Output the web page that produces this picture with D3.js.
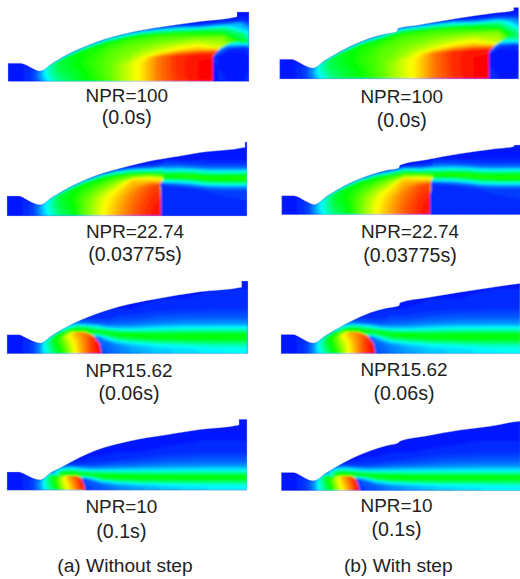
<!DOCTYPE html>
<html>
<head>
<meta charset="utf-8">
<script src="https://cdn.jsdelivr.net/npm/d3@7"></script>
<style>
html, body { margin:0; padding:0; background:#fff; }
text { font-family:"Liberation Sans", Arial, sans-serif; fill:#222; }
</style>
</head>
<body>
<div id="chart"></div>
<script>
// wall contours, [axial distance, radius]
var wall100A = [[0,18.3],[12,18.3],[17,17],[24,13.5],[31.5,10.5],[45,18.8],[55,24.8],[72,33],[89,39.8],[105,44.8],[122,49],[139,52.3],[153,54.5],[170,57],[192,60],[229,64.7],[229,69.5],[241,69.5]];
var wall22A = [[0,20],[12,20],[17,18],[24,14],[33,11.3],[45,18.8],[55,24.8],[72,33.5],[89,40.5],[105,45.5],[122,50],[143,55],[170,59.5],[193,63.5],[238,68.7],[238,74],[240,74]];
var wall15A = [[0,19],[12,19],[17,17],[24,13.5],[33,10.7],[45,18.3],[55,24.5],[72,33],[89,39.8],[105,45],[122,49.5],[139,53],[153,55.5],[170,58.5],[193,62],[234.7,66.5],[234.7,72.7],[241,72.7]];
var wall10A = [[0,18.3],[12,18.3],[17,16.5],[24,13],[33,10.5],[45,18.5],[56,24],[73,33],[89.7,40.3],[106,45.3],[123,49.3],[139.7,52.6],[153,54.5],[170,57.3],[193,60.8],[232,65.3],[232,71],[240,71]];
var wall100B = [[0,19.7],[12,19.7],[17,18],[24,14],[33,11],[45,18.5],[55,24.5],[72,33.5],[89,40.5],[105,45],[117,47.5],[118.5,50.7],[139,54],[153,56.5],[180,61],[213,65.7],[234,68.5],[234,71.5],[239,71.5]];
var wall22B = [[0,19],[12,19],[17,17.5],[24,13.5],[32.7,10.3],[45,18.5],[55,24.8],[72,33.5],[89,40],[105,44.5],[117,46.8],[118.5,49.7],[145,55],[178,61],[212,65.7],[231.7,68],[233,69.7],[239,69.7]];
var wall15B = [[0,19.3],[12,19.3],[17,17.5],[24,13.5],[32.3,10.7],[45,18.5],[55,24.5],[72,33.5],[89,41],[105,45.5],[118,48],[119,51],[145.7,56],[179,61.5],[212,66.5],[239,70.3]];
var wall10B = [[0,18.3],[12,18.3],[17,16.5],[24,12.5],[32,10],[45,18],[55,24],[72,33],[89,40],[105,45],[117,48],[118.5,49.5],[145,54.7],[179,60.7],[212,65],[233.7,69],[239,69.5]];

// shock fronts, from the axis up
var shock100A = [[204.5,0],[204.5,24],[205,26],[212,33.7],[222,38.7],[229,39.7],[245,38]];
var shock100B = [[208.7,0],[209,26],[210,29],[215,34],[229,43],[239,45],[245,46]];
var shock22A = [[153.5,0],[153,32],[156,37]];
var shock22B = [[148,0],[148.5,33],[151,37]];
var shock15 = [[94,0],[92,10],[86,18],[78,21],[65,22],[55,22],[50,24]];
var shock10 = [[78,0],[77,4],[74,12],[70,14],[60,14],[47,15],[43,18]];

// plume values (0-100), rows are fractions of the local radius
var plumeX100A = [0,16,26,32,40,50,62,80,100,120,135,150,170,190,215,241];
var plumeX100B = [0,16,26,33,41,51,63,81,101,122,138,154,174,194,219,241];
var plumeEta100 = [0,.2,.35,.45,.55,.7,.85,.92,.97,1.01];
var plume100 = [
	[2,3,6,12,24,36,43,50,58,70,78,88,95,99,100,100],
	[2,3,6,13,26,38,44,51,59,70,78,88,96,99,100,100],
	[2,3,6,14,28,40,45,52,59,70,78,88,96,99,100,100],
	[2,3,6,15,30,42,47,53,59,65,75,88,96,98,98,90],
	[2,3,6,15,30,43,47,53,58,63,68,72,78,80,70,45],
	[2,3,6,15,30,42,47,52,57,60,61,63,64,65,62,25],
	[2,3,6,14,30,44,48,51,53,55,55,55,52,45,35,5],
	[2,3,5,14,30,44,46,47,47,46,44,38,28,10,8,2],
	[1,2,3,10,20,28,28,28,26,22,18,12,6,3,3,1],
	[0,1,1,4,8,10,10,10,10,8,6,3,2,1,1,0]
];
var plumeX22A = [0,16,26,33,43,52,62,76,96,110,126,143,160];
var plumeX22B = [0,16,26,33,43,52,62,76,94,107,122,138,155];
var plumeEta22 = [0,.2,.4,.55,.7,.8,.87,.93,.97,1.01];
var plume22 = [
	[2,3,6,13,27,38,44,58,75,83,91,97,100],
	[2,3,6,14,28,40,46,58,74,82,90,96,100],
	[2,3,6,15,30,43,48,58,72,80,88,94,98],
	[2,3,6,15,31,44,49,57,67,76,84,92,95],
	[2,3,6,15,30,44,49,54,60,66,80,72,55],
	[2,3,6,14,29,44,48,52,55,58,55,42,30],
	[2,3,6,14,30,44,47,50,50,50,40,12,8],
	[2,3,5,14,30,42,44,45,42,30,10,4,4],
	[1,2,3,10,20,26,26,24,14,8,3,2,2],
	[0,1,1,4,8,10,10,8,4,2,1,1,1]
];
var plumeX15 = [0,16,26,33,40,47,55,60,67,75,83,92,100];
var plumeEta15 = [0,.2,.35,.5,.65,.8,.88,.94,.98,1.01];
var plume15 = [
	[2,3,6,14,27,40,52,60,74,84,92,99,100],
	[2,3,6,15,28,42,54,62,74,84,93,100,100],
	[2,3,6,15,30,44,56,65,76,85,93,98,98],
	[2,3,6,15,31,46,58,68,78,86,92,95,95],
	[2,3,6,15,32,47,60,72,82,88,90,90,90],
	[2,3,6,15,30,46,52,58,60,60,60,60,60],
	[2,3,6,14,28,44,48,48,48,48,48,48,48],
	[2,3,5,12,24,40,42,42,42,42,42,42,42],
	[1,2,3,6,10,16,16,16,16,16,16,16,16],
	[0,1,1,2,3,5,4,4,4,4,4,4,4]
];
var plumeX10 = [0,16,26,33,38,43,50,56,61,68,75,80];
var plumeEta10 = [0,.2,.35,.5,.65,.8,.88,.94,.98,1.01];
var plume10 = [
	[2,3,6,14,25,35,50,66,75,85,96,100],
	[2,3,6,14,26,37,52,68,77,88,98,100],
	[2,3,6,15,27,39,55,70,80,90,98,98],
	[2,3,6,15,28,41,57,72,84,92,94,94],
	[2,3,6,15,28,42,54,62,74,80,80,80],
	[2,3,6,15,27,42,46,48,50,50,50,50],
	[2,3,6,14,25,36,38,38,38,38,38,38],
	[2,3,5,12,20,26,28,28,28,28,28,28],
	[1,2,3,6,10,12,12,12,12,12,12,12],
	[0,1,1,2,3,4,4,4,4,4,4,4]
];

// values outside the plume, rows are plain radii
var outerX100 = [0,200,210,220,235,241];
var outerR100 = [0,15,25,30,34,38,42,75];
var outer100 = [
	[2,2,3,3,3,4],
	[2,2,3,2,2,3],
	[2,3,3,2,2,3],
	[2,4,12,3,3,4],
	[2,5,25,8,4,8],
	[2,5,30,30,25,30],
	[2,5,40,40,40,40],
	[2,5,40,40,40,40]
];
var outerX22A = [150,158,172,185,200,215,241];
var outerX22B = [145,153,172,185,200,215,241];
var outerR22 = [0,15,25,29,32,35,38,41,44,47,51,56,75];
var outer22 = [
	[3,3,3,3,3,4,5],
	[3,3,3,3,3,4,5],
	[3,3,4,4,5,6,6],
	[3,4,5,7,12,14,14],
	[3,8,12,18,28,30,30],
	[20,28,30,36,46,50,50],
	[45,48,50,52,54,52,54],
	[48,52,52,52,46,46,48],
	[40,35,38,36,30,28,30],
	[25,18,20,18,14,14,14],
	[12,8,8,7,6,6,6],
	[4,3,3,3,3,3,3],
	[2,2,2,2,2,2,2]
];
var outerX15 = [50,60,70,80,90,100,110,125,150,180,210,241];
var outerR15 = [0,4,8,11,14,17,20,23,26,30,36,45,75];
var outer15 = [
	[6,6,6,6,8,9,12,15,20,22,24,26],
	[6,6,6,6,8,9,12,16,20,22,25,26],
	[6,6,6,6,8,10,13,18,24,27,30,31],
	[6,6,6,6,8,11,18,26,34,38,40,40],
	[6,6,6,6,8,18,34,40,46,47,47,47],
	[6,6,6,8,11,32,46,50,50,50,50,50],
	[6,45,45,45,42,50,50,50,47,48,48,47],
	[6,50,50,50,48,44,36,32,34,36,36,36],
	[3,28,48,42,32,20,18,18,22,24,25,25],
	[2,6,14,12,10,9,10,11,13,15,15,15],
	[2,3,3,4,4,4,6,6,8,9,9,9],
	[1,1,2,2,2,3,3,3,4,4,5,5],
	[1,1,1,1,1,1,1,1,1,1,2,2]
];
var outerX10 = [44,55,65,75,85,95,110,130,160,200,241];
var outerR10 = [0,3,6,9,12,15,18,21,25,30,38,50,75];
var outer10 = [
	[6,6,6,6,7,9,13,16,20,23,25],
	[6,6,6,6,7,9,13,16,20,23,25],
	[6,6,6,6,8,11,17,22,27,29,30],
	[6,6,6,6,9,22,34,40,42,42,42],
	[6,6,6,8,24,46,50,50,50,50,50],
	[6,48,48,48,50,50,50,49,48,48,47],
	[8,50,52,44,40,38,36,34,34,34,34],
	[5,25,30,22,18,18,19,20,21,22,22],
	[3,6,6,6,7,8,10,11,13,14,14],
	[2,3,3,3,4,4,5,6,8,9,9],
	[1,1,2,2,2,2,3,3,4,5,5],
	[1,1,1,1,1,1,2,2,2,3,3],
	[1,1,1,1,1,1,1,1,1,2,2]
];

var nprLabels = ["NPR=100","NPR=22.74","NPR15.62","NPR=10"];
var timeLabels = ["(0.0s)","(0.03775s)","(0.06s)","(0.1s)"];
var columnLabels = ["(a) Without step","(b) With step"];

var panels = [
	{left:8, axis:81.5, wall:wall100A, shock:shock100A, px:plumeX100A, pe:plumeEta100, pv:plume100, ox:outerX100, or:outerR100, ov:outer100, npr:0, cx:126.8, y1:101.7, y2:124},
	{left:7, axis:216, wall:wall22A, shock:shock22A, px:plumeX22A, pe:plumeEta22, pv:plume22, ox:outerX22A, or:outerR22, ov:outer22, npr:1, cx:135, y1:238.3, y2:260.7},
	{left:7, axis:353.7, wall:wall15A, shock:shock15, px:plumeX15, pe:plumeEta15, pv:plume15, ox:outerX15, or:outerR15, ov:outer15, npr:2, cx:129, y1:376.7, y2:400},
	{left:7, axis:490.3, wall:wall10A, shock:shock10, px:plumeX10, pe:plumeEta10, pv:plume10, ox:outerX10, or:outerR10, ov:outer10, npr:3, cx:121.4, y1:513.3, y2:537.7},
	{left:279.7, axis:79, wall:wall100B, shock:shock100B, px:plumeX100B, pe:plumeEta100, pv:plume100, ox:outerX100, or:outerR100, ov:outer100, npr:0, cx:401.7, y1:103.3, y2:126.7},
	{left:281.7, axis:214.7, wall:wall22B, shock:shock22B, px:plumeX22B, pe:plumeEta22, pv:plume22, ox:outerX22B, or:outerR22, ov:outer22, npr:1, cx:410, y1:238.3, y2:261.7},
	{left:281, axis:353.7, wall:wall15B, shock:shock15, px:plumeX15, pe:plumeEta15, pv:plume15, ox:outerX15, or:outerR15, ov:outer15, npr:2, cx:404, y1:376, y2:400},
	{left:281.3, axis:490.7, wall:wall10B, shock:shock10, px:plumeX10, pe:plumeEta10, pv:plume10, ox:outerX10, or:outerR10, ov:outer10, npr:3, cx:396.5, y1:512.3, y2:536}
];

var width = 520, height = 579;
var svg = d3.select("#chart").append("svg")
	.attr("width", width)
	.attr("height", height)
	.style("display", "block");

var defs = svg.append("defs");
defs.append("filter").attr("id", "soft")
	.attr("x", "-5%").attr("y", "-5%").attr("width", "110%").attr("height", "110%")
	.append("feGaussianBlur").attr("stdDeviation", 0.8);

var color = d3.scaleLinear()
	.domain([0,25,50,75,100])
	.range(["#0000ff","#00ffff","#00ff00","#ffff00","#ff0000"]);
var levels = d3.range(1, 100, 2);

//contour bands of one grid, painted from low to high
function drawBands(target, rows, toPoint) {
	var n = rows[0].length, m = rows.length;
	var bands = d3.contours().size([n, m]).thresholds(levels)(d3.merge(rows));
	var path = d3.geoPath(d3.geoTransform({
		point: function(gx, gy) {
			var p = toPoint(gx - 0.5, gy - 0.5);
			this.stream.point(p[0], p[1]);
		}
	}));
	target.selectAll("path").data(bands).enter().append("path")
		.attr("d", path)
		.attr("fill", function(d) { return color(d.value + 1); })
		.attr("stroke", "none");
}

panels.forEach(function(p, k) {
	var x = d3.scaleLinear().domain([0, 241]).range([p.left, p.left + 241]);
	var y = d3.scaleLinear().domain([0, 75]).range([p.axis, p.axis - 75]);
	var radius = d3.scaleLinear()
		.domain(p.wall.map(function(d) { return d[0]; }))
		.range(p.wall.map(function(d) { return d[1]; }))
		.clamp(true);

	var wallArea = d3.area()
		.curve(d3.curveMonotoneX)
		.x(function(d) { return x(d[0]); })
		.y0(y(0))
		.y1(function(d) { return y(d[1]); });

	defs.append("clipPath").attr("id", "wall" + k)
		.append("path").attr("d", wallArea(p.wall));

	var closed = p.shock.concat([[p.shock[p.shock.length - 1][0], 90], [-5, 90], [-5, 0]]);
	defs.append("clipPath").attr("id", "plume" + k)
		.append("path").attr("d", d3.line()
			.x(function(d) { return x(d[0]); })
			.y(function(d) { return y(d[1]); })(closed) + "Z");

	var panel = svg.append("g").attr("clip-path", "url(#wall" + k + ")");
	var field = panel.append("g").attr("filter", "url(#soft)");

	field.append("rect")
		.attr("x", x(-3)).attr("y", y(80))
		.attr("width", x(245) - x(-3)).attr("height", y(-3) - y(80))
		.attr("fill", color(1));

	//outside the plume: plain radius rows
	var oxIndex = d3.scaleLinear().domain(d3.range(p.ox.length)).range(p.ox).clamp(true);
	var orIndex = d3.scaleLinear().domain(d3.range(p.or.length)).range(p.or).clamp(true);
	drawBands(field.append("g"), p.ov, function(i, j) {
		return [x(oxIndex(i)), y(orIndex(j))];
	});

	//inside the plume: fraction of local radius
	var pxIndex = d3.scaleLinear().domain(d3.range(p.px.length)).range(p.px).clamp(true);
	var peIndex = d3.scaleLinear().domain(d3.range(p.pe.length)).range(p.pe).clamp(true);
	var plume = field.append("g").attr("clip-path", "url(#plume" + k + ")");
	plume.append("rect")
		.attr("x", x(-3)).attr("y", y(80))
		.attr("width", x(245) - x(-3)).attr("height", y(-3) - y(80))
		.attr("fill", color(1));
	drawBands(plume.append("g"), p.pv, function(i, j) {
		var ax = pxIndex(i);
		return [x(ax), y(peIndex(j) * radius(ax))];
	});

	svg.append("path")
		.attr("d", wallArea(p.wall))
		.attr("fill", "none")
		.attr("stroke", "#b4bad0")
		.attr("stroke-width", 0.4);

	svg.append("text")
		.attr("x", p.cx).attr("y", p.y1)
		.attr("text-anchor", "middle").attr("font-size", 18.9)
		.text(nprLabels[p.npr]);
	svg.append("text")
		.attr("x", p.cx).attr("y", p.y2)
		.attr("text-anchor", "middle").attr("font-size", 19.6)
		.text(timeLabels[p.npr]);
});

svg.selectAll(".column").data(columnLabels).enter().append("text")
	.attr("class", "column")
	.attr("x", function(d, i) { return [125, 398.3][i]; })
	.attr("y", 571.7)
	.attr("text-anchor", "middle")
	.attr("font-size", 19.2)
	.text(function(d) { return d; });
</script>
</body>
</html>
